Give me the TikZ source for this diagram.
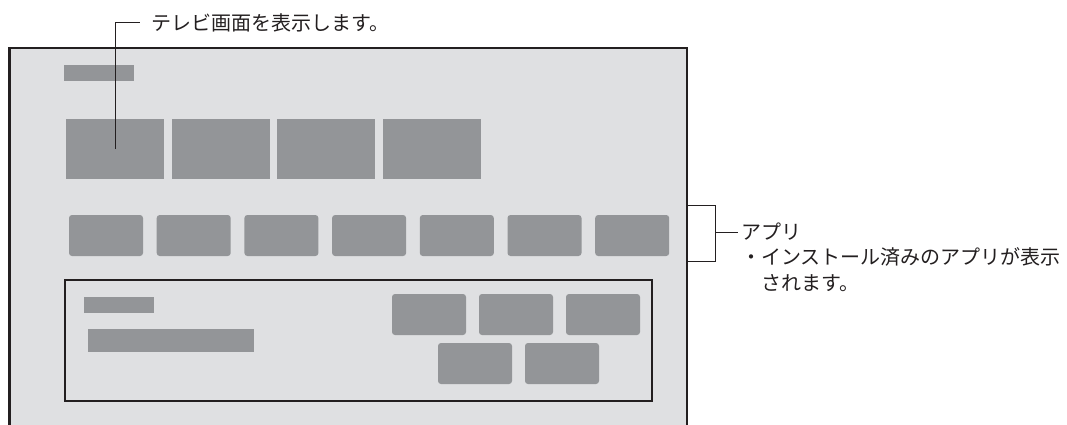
\documentclass[tikz,border=0pt]{standalone}
\usepackage{fontspec}
\newfontfamily\jpfont{Noto Sans CJK JP}
\usepackage{tikz}

\definecolor{screenfill}{HTML}{DFE0E2}
\definecolor{tilegray}{HTML}{939598}
\definecolor{inkgray}{HTML}{231F20}

\begin{document}
\begin{tikzpicture}[x=1pt, y=-1pt, >=stealth,
    screen/.style={draw=inkgray, line width=2.5pt, fill=screenfill, inner sep=0pt, outer sep=0pt, anchor=north west},
    panel/.style={draw=inkgray, line width=1.2pt, inner sep=0pt, outer sep=0pt, anchor=north west},
    bar/.style={fill=tilegray, inner sep=0pt, outer sep=0pt, anchor=north west},
    tile/.style={bar, minimum width=98pt, minimum height=60pt},
    app/.style={bar, rounded corners=3pt, minimum width=74pt, minimum height=41pt},
    leader/.style={draw=inkgray, line width=1pt},
    note/.style={font=\jpfont\fontsize{20}{25.5}\selectfont, text=inkgray, inner sep=0pt, align=left}]
    \clip (0,0) rectangle (1067,424);

    % tv screen
    \node[screen, minimum width=677.5pt, minimum height=400pt] (screen) at (9.5,48) {};
    \node[bar, minimum width=70pt, minimum height=16pt] (title) at (64,65) {};
    \foreach \i/\x in {1/66,2/172,3/277,4/383}
        \node[tile] (tv\i) at (\x,119) {};
    \foreach \i in {1,...,7}
        \node[app] (app\i) at ({69+87.7*(\i-1)},215) {};

    % detail panel
    \node[panel, minimum width=587pt, minimum height=121pt] (panel) at (65,280) {};
    \node[bar, minimum width=70pt, minimum height=16pt] (pname) at (84,297) {};
    \node[bar, minimum width=166pt, minimum height=23pt] (pdesc) at (88,329) {};
    \foreach \i/\x/\y in {1/392/294,2/479/294,3/566/294,4/438/343,5/525/343}
        \node[app] (btn\i) at (\x,\y) {};

    % callouts
    \node[note, anchor=west] (tvnote) at (151,22.5) {テレビ画面を表示します。};
    \draw[leader] (tv1.center) |- ([xshift=-11pt]tvnote.west);

    \coordinate (brtop) at (715,205.7);
    \coordinate (brbot) at (715,261.7);
    \coordinate (brmid) at (715,232.5);
    \draw[leader] (screen.east |- brtop) -- (brtop) -- (brbot) -- (screen.east |- brbot);
    \node[note, anchor=north west] (appnote) at (741,222.5)
        {アプリ\\・インストール済みのアプリが表示\\\hspace*{1em}されます。};
    \draw[leader] (brmid) -- ([xshift=-3pt]appnote.west |- brmid);
\end{tikzpicture}
\end{document}
